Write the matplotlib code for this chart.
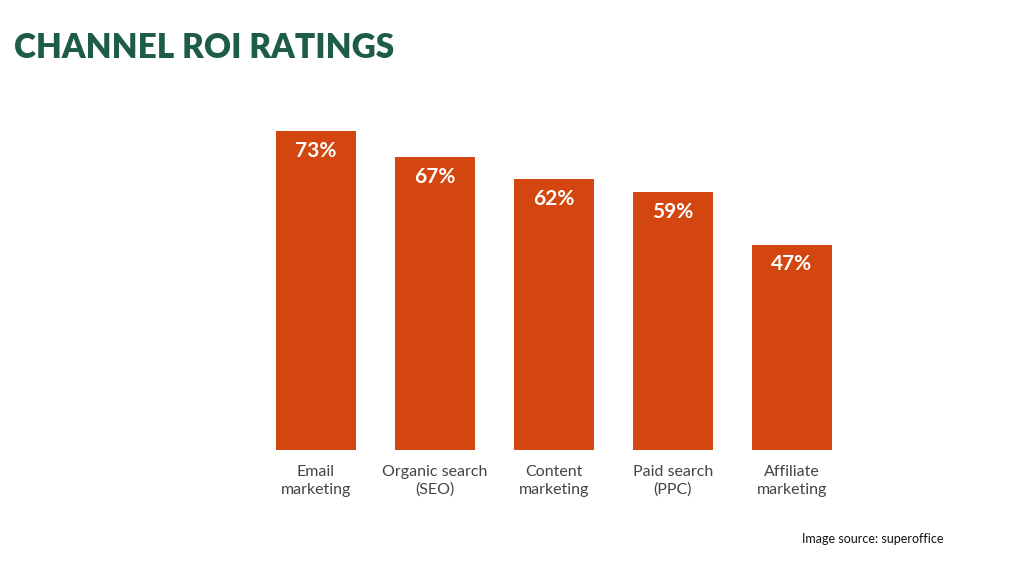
import matplotlib.pyplot as plt

categories = ["Email\nmarketing", "Organic search\n(SEO)", "Content\nmarketing",
              "Paid search\n(PPC)", "Affiliate\nmarketing"]
roi = [73, 67, 62, 59, 47]

W, H = 1024, 576
fig = plt.figure(figsize=(W / 100, H / 100), dpi=100)
fig.patch.set_facecolor("white")

# axes placed so bars sit where they do in the reference
ax = fig.add_axes([256.5 / W, 126 / H, 595 / W, 437 / H])
x = range(len(roi))
ax.bar(x, roi, width=0.68, color="#D4460F")
ax.set_xlim(-0.5, 4.5)
ax.set_ylim(0, 100)
ax.axis("off")

for i, v in enumerate(roi):
    ax.text(i, v - 2.2, f"{v}%", ha="center", va="top", color="white",
            fontsize=15, fontweight="bold", family="Lato")
    ax.text(i, -3.5, categories[i], ha="center", va="top", color="#444444",
            fontsize=11.5, family="Lato", linespacing=1.3)

fig.text(14 / W, 1 - 48 / H, "CHANNEL ROI RATINGS", ha="left", va="center",
         fontsize=24, fontweight="heavy", color="#1D5C45", family="Lato")
fig.text(943 / W, 1 - 539 / H, "Image source: superoffice", ha="right",
         va="center", fontsize=9, color="#111111", family="Lato")

fig.savefig("out.png", dpi=100)
